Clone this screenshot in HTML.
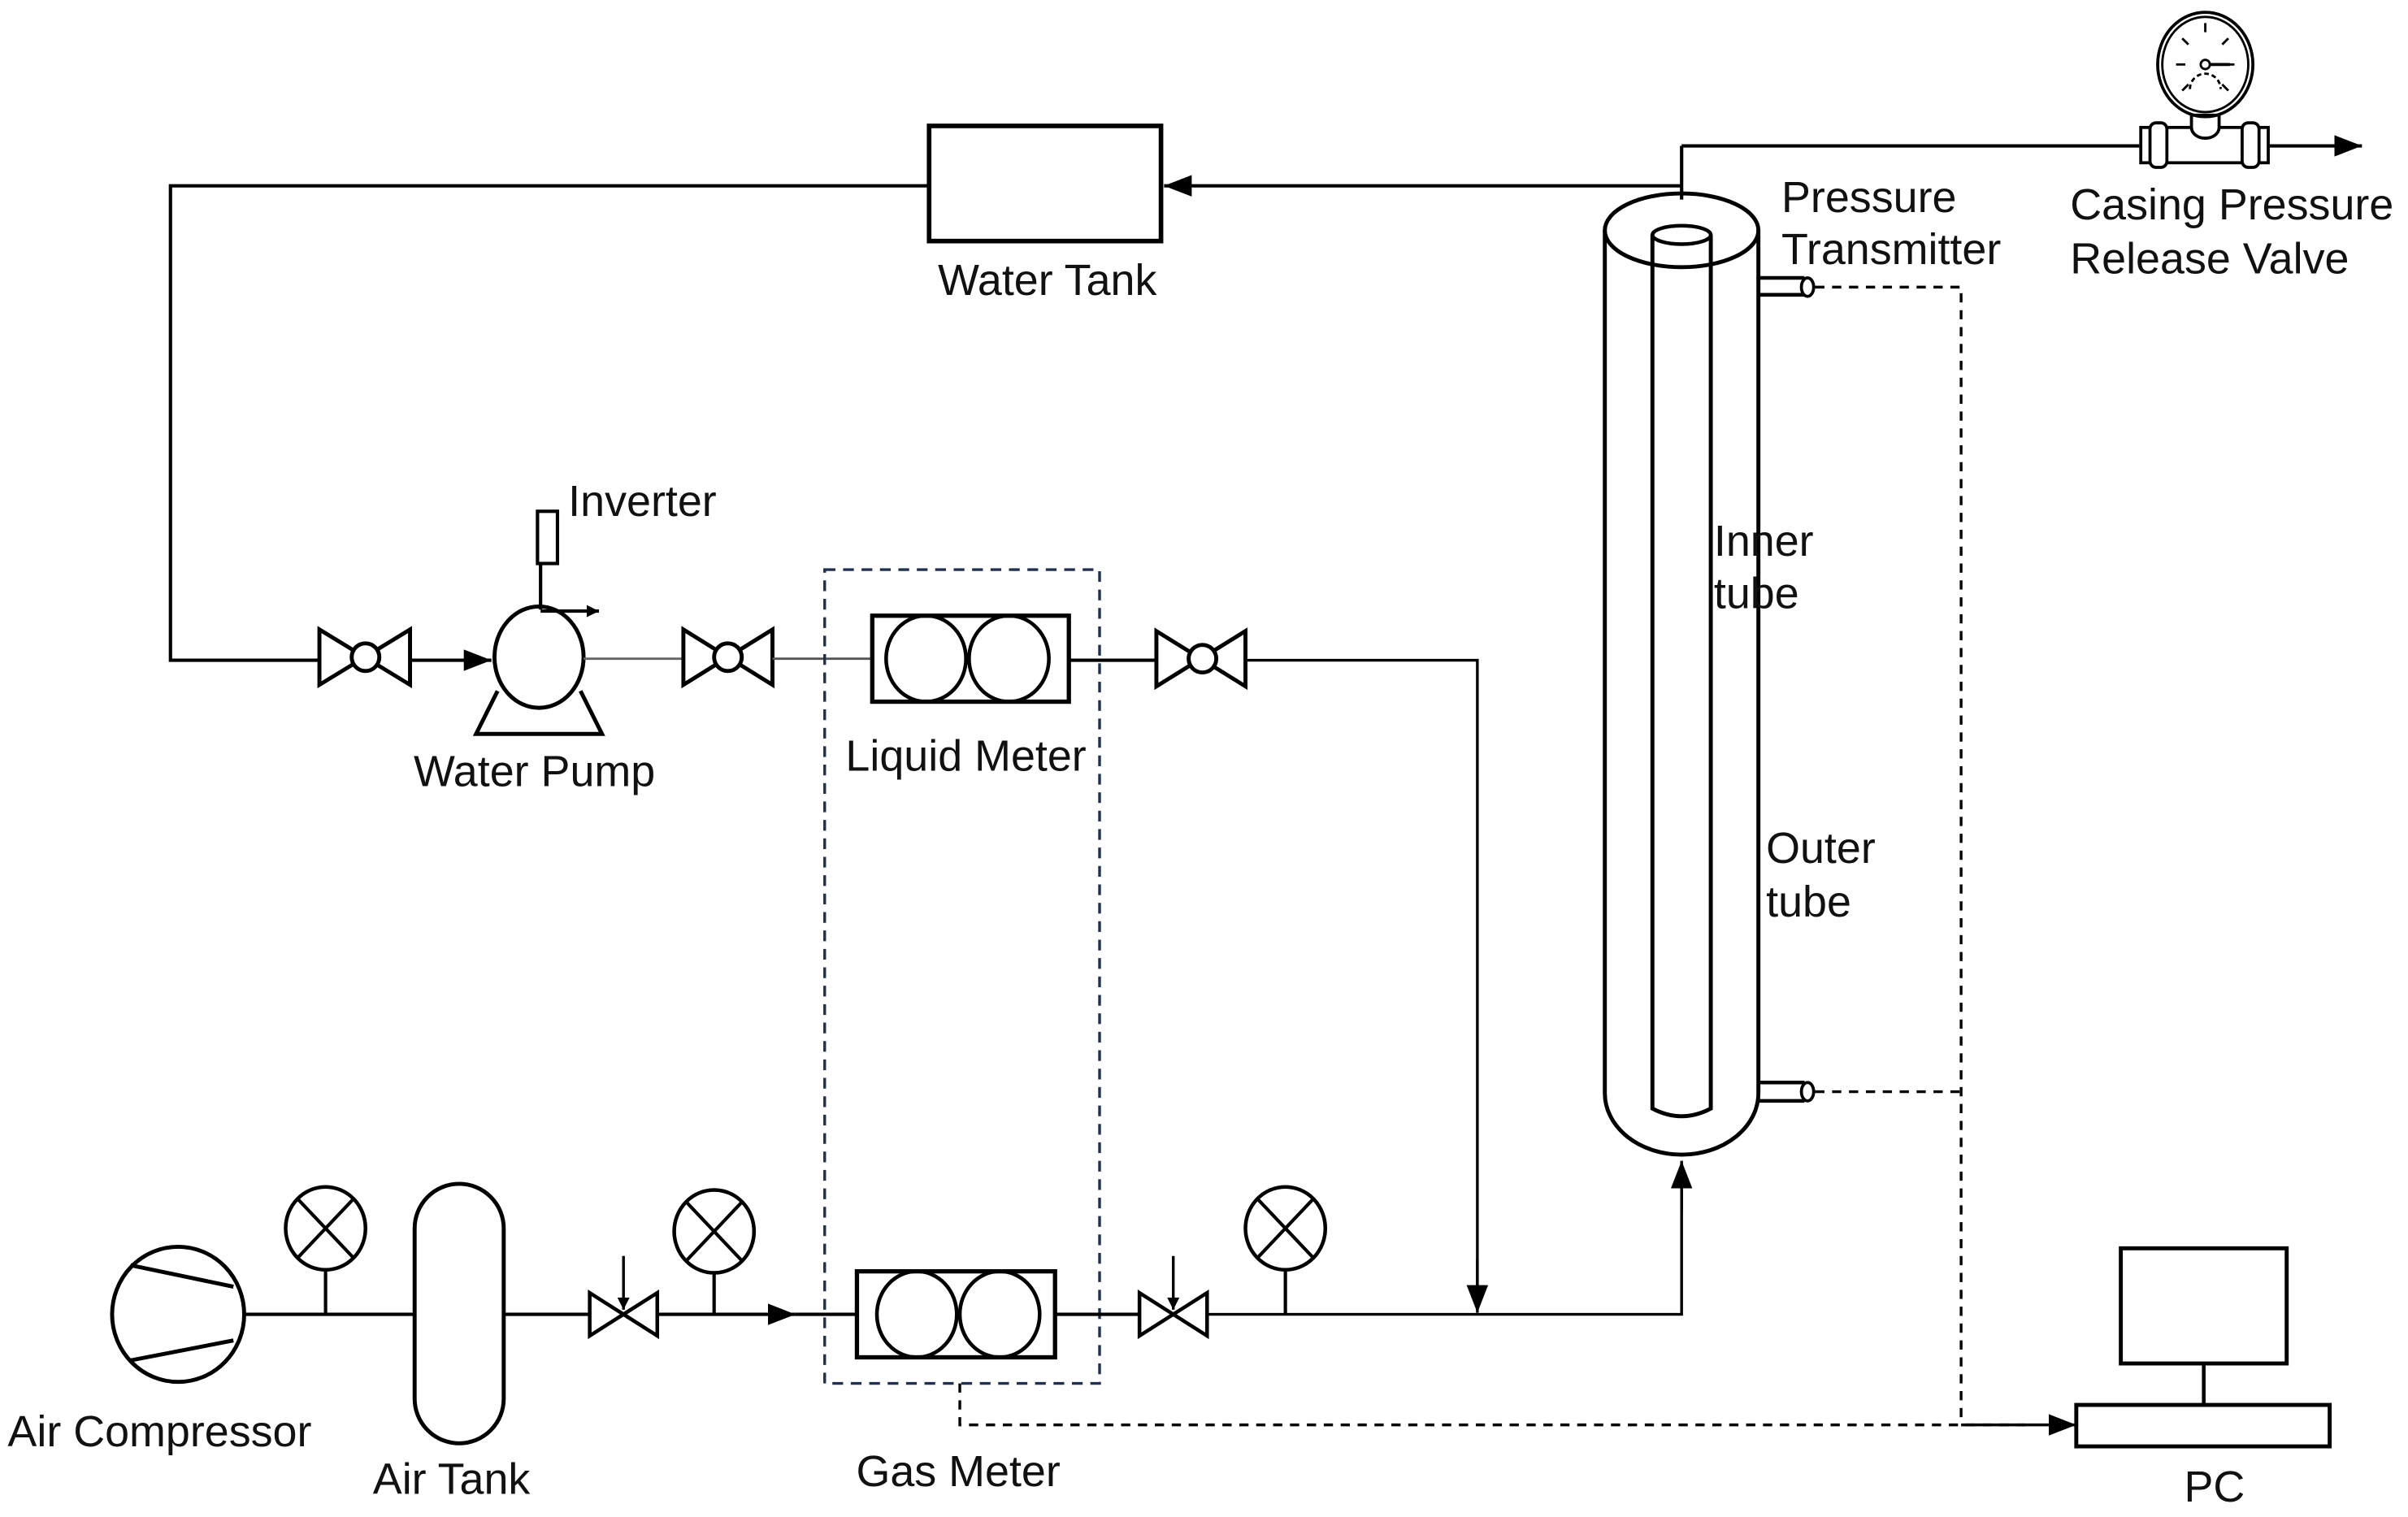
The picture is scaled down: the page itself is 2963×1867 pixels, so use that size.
<!DOCTYPE html>
<html><head><meta charset="utf-8"><style>
html,body{margin:0;padding:0;background:#fff;}
svg{display:block;}
text{font-family:"Liberation Sans",sans-serif;font-size:28.5px;fill:#111;}
</style></head><body>
<svg width="2963" height="1867" viewBox="0 0 1568 988" preserveAspectRatio="none" xmlns="http://www.w3.org/2000/svg">
<defs>
<marker id="ah" viewBox="0 0 10 10" refX="10" refY="5" markerWidth="8" markerHeight="8" markerUnits="userSpaceOnUse" orient="auto"><path d="M0,0 L10,5 L0,10 z" fill="#000"/></marker>
<marker id="ahb" viewBox="0 0 10 10" refX="10" refY="5" markerWidth="18" markerHeight="14" markerUnits="userSpaceOnUse" orient="auto" preserveAspectRatio="none"><path d="M0,0 L10,5 L0,10 z" fill="#000"/></marker>
</defs>
<g fill="none" stroke="#000" stroke-width="2.2">
<rect x="605" y="82" width="151" height="75" stroke-width="3"/>
<polyline points="605,121 111,121 111,430 208,430"/>
<line x1="1095" y1="121" x2="758" y2="121" marker-end="url(#ahb)"/>
<line x1="1095" y1="95" x2="1095" y2="130"/>
<line x1="1095" y1="95" x2="1393" y2="95"/>
<line x1="1478" y1="95" x2="1538" y2="95" marker-end="url(#ahb)"/>
<rect x="1394" y="83" width="83" height="23" stroke-width="2"/>
<rect x="1400" y="80" width="11" height="29" rx="4" fill="#fff" stroke-width="2"/>
<rect x="1460" y="80" width="11" height="29" rx="4" fill="#fff" stroke-width="2"/>
<path d="M1427,83 a9,7 0 0 0 18,0 v-8 h-18 z" fill="#fff" stroke-width="2"/>
<ellipse cx="1436" cy="42" rx="31" ry="34" stroke-width="2"/>
<ellipse cx="1436" cy="42" rx="28" ry="31" stroke-width="1.5"/>
<circle cx="1436" cy="42" r="3" stroke-width="1.5"/>
<line x1="1439" y1="42" x2="1452" y2="42" stroke-width="2"/>
<path d="M1417,42h6 M1449,42h6 M1436,15v6 M1421,25l4,4 M1451,25l-4,4 M1421,59l4,-4 M1451,59l-4,-4" stroke-width="1.5"/>
<path d="M1426,58 a10,10 0 0 1 20,0" stroke-width="1.5" stroke-dasharray="3,2"/>
<path d="M208,410 L267,446 L267,410 L208,446 Z" stroke-width="2.6"/>
<circle cx="238" cy="428" r="9" fill="#fff" stroke-width="2.6"/>
<line x1="267" y1="430" x2="320" y2="430" marker-end="url(#ahb)"/>
<path d="M324,450 L310,478 L392,478 L378,450" stroke-width="2.6"/>
<ellipse cx="351" cy="428" rx="29" ry="33" fill="#fff" stroke-width="2.6"/>
<rect x="350" y="333" width="13" height="34" stroke-width="2.2"/>
<line x1="352" y1="367" x2="352" y2="397"/>
<line x1="352" y1="398" x2="390" y2="398" marker-end="url(#ah)"/>
<line x1="380" y1="429" x2="445" y2="429" stroke="#666" stroke-width="1.5"/>
<path d="M445,410 L503,446 L503,410 L445,446 Z" stroke-width="2.6"/>
<circle cx="474" cy="428" r="9" fill="#fff" stroke-width="2.6"/>
<line x1="503" y1="429" x2="568" y2="429" stroke="#555" stroke-width="1.5"/>
<rect x="568" y="401" width="128" height="56" stroke-width="2.8"/>
<ellipse cx="603" cy="429" rx="26" ry="28" stroke-width="2.4"/>
<ellipse cx="657" cy="429" rx="26" ry="28" stroke-width="2.4"/>
<line x1="696" y1="430" x2="753" y2="430"/>
<path d="M753,411 L811,447 L811,411 L753,447 Z" stroke-width="2.6"/>
<circle cx="783" cy="429" r="9" fill="#fff" stroke-width="2.6"/>
<polyline points="811,430 962,430 962,853" stroke-width="1.8"/>
<line x1="962" y1="820" x2="962" y2="855" marker-end="url(#ahb)" stroke-width="1.8"/>
<rect x="537" y="371" width="179" height="530" stroke="#1f3050" stroke-width="1.8" stroke-dasharray="7,5"/>
<path d="M1045,150 L1045,712 A50,40 0 0 0 1145,712 L1145,150" stroke-width="2.6"/>
<ellipse cx="1095" cy="150" rx="50" ry="24" stroke-width="2.6"/>
<path d="M1076,153 L1076,722 Q1095,732 1114,722 L1114,153" stroke-width="2.6"/>
<ellipse cx="1095" cy="153" rx="19" ry="6" stroke-width="2.4"/>
<path d="M1145,181 h30 M1145,192 h30" stroke-width="2.4"/>
<ellipse cx="1177" cy="187" rx="4" ry="6" stroke-width="2"/>
<path d="M1145,705 h30 M1145,717 h30" stroke-width="2.4"/>
<ellipse cx="1177" cy="711" rx="4" ry="6" stroke-width="2"/>
<g stroke-dasharray="6,5" stroke-width="1.8">
<polyline points="1182,187 1277,187 1277,928"/>
<line x1="1182" y1="711" x2="1277" y2="711"/>
<polyline points="625,901 625,928 1320,928"/>
</g>
<line x1="1277" y1="928" x2="1352" y2="928" marker-end="url(#ahb)" stroke-width="1.8"/>
<rect x="1381" y="813" width="108" height="75" stroke-width="2.6"/>
<line x1="1435" y1="888" x2="1435" y2="915" stroke-width="2.4"/>
<rect x="1352" y="915" width="165" height="27" stroke-width="2.6"/>
<ellipse cx="116" cy="856" rx="43" ry="44" stroke-width="2.6"/>
<path d="M85,824 L152,838 M85,886 L152,873" stroke-width="2.6"/>
<line x1="159" y1="856" x2="270" y2="856"/>
<ellipse cx="212" cy="800" rx="26" ry="27" stroke-width="2.4"/>
<path d="M194,781 L230,819 M230,781 L194,819" stroke-width="2.2"/>
<line x1="212" y1="827" x2="212" y2="856"/>
<rect x="270" y="771" width="58" height="169" rx="29" ry="29" stroke-width="2.6"/>
<line x1="328" y1="856" x2="384" y2="856"/>
<path d="M384,842 L428,870 L428,842 L384,870 Z" stroke-width="2.4"/>
<line x1="406" y1="818" x2="406" y2="853" marker-end="url(#ah)" stroke-width="1.8"/>
<line x1="428" y1="856" x2="518" y2="856" marker-end="url(#ahb)"/>
<line x1="518" y1="856" x2="558" y2="856"/>
<ellipse cx="465" cy="802" rx="26" ry="27" stroke-width="2.4"/>
<path d="M447,783 L483,821 M483,783 L447,821" stroke-width="2.2"/>
<line x1="465" y1="829" x2="465" y2="856"/>
<rect x="558" y="828" width="129" height="56" stroke-width="2.8"/>
<ellipse cx="597" cy="856" rx="26" ry="28" stroke-width="2.4"/>
<ellipse cx="651" cy="856" rx="26" ry="28" stroke-width="2.4"/>
<line x1="687" y1="856" x2="742" y2="856"/>
<path d="M742,842 L786,870 L786,842 L742,870 Z" stroke-width="2.4"/>
<line x1="764" y1="818" x2="764" y2="853" marker-end="url(#ah)" stroke-width="1.8"/>
<ellipse cx="837" cy="800" rx="26" ry="27" stroke-width="2.4"/>
<path d="M819,781 L855,819 M855,781 L819,819" stroke-width="2.2"/>
<line x1="837" y1="827" x2="837" y2="856"/>
<polyline points="786,856 1095,856 1095,760" stroke-width="1.8"/>
<line x1="1095" y1="790" x2="1095" y2="756" marker-end="url(#ahb)" stroke-width="1.8"/>
</g>
<g>
<text x="682" y="192" text-anchor="middle">Water Tank</text>
<text x="370" y="336">Inverter</text>
<text x="348" y="512" text-anchor="middle">Water Pump</text>
<text x="629" y="502" text-anchor="middle">Liquid Meter</text>
<text x="1160" y="138">Pressure</text>
<text x="1160" y="172">Transmitter</text>
<text x="1348" y="143">Casing Pressure</text>
<text x="1348" y="178">Release Valve</text>
<text x="1116" y="362">Inner</text>
<text x="1116" y="396">tube</text>
<text x="1150" y="562">Outer</text>
<text x="1150" y="597">tube</text>
<text x="5" y="942">Air Compressor</text>
<text x="294" y="973" text-anchor="middle">Air Tank</text>
<text x="624" y="968" text-anchor="middle">Gas Meter</text>
<text x="1442" y="978" text-anchor="middle">PC</text>
</g>
</svg>
</body></html>
